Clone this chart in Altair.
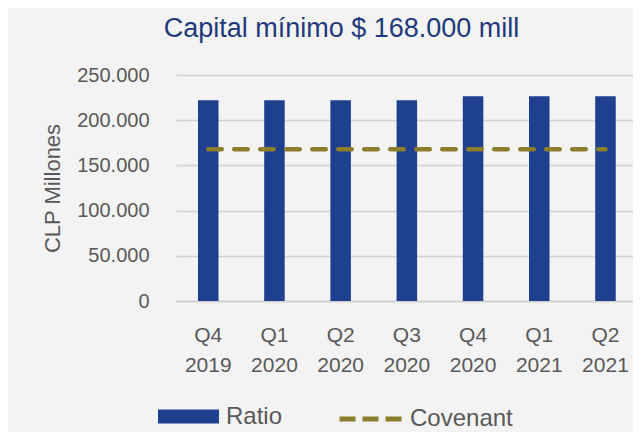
import altair as alt
import pandas as pd

categories = ["Q4 2019", "Q1 2020", "Q2 2020", "Q3 2020", "Q4 2020", "Q1 2021", "Q2 2021"]
ratio = [222000, 222000, 222000, 222000, 226500, 226500, 226500]
covenant = [168000] * 7

FONT = "Liberation Sans"
BLUE = "#1f3f8f"
OLIVE = "#8c7e2b"
GRAY_TXT = "#595959"

bars_df = pd.DataFrame({"cat": categories, "value": ratio, "s": ["Ratio"] * 7})
line_df = pd.DataFrame({"cat": categories, "value": covenant, "s": ["Covenant"] * 7})

x_enc = alt.X(
    "cat:N",
    sort=categories,
    scale=alt.Scale(paddingInner=0.69, paddingOuter=0.2965, align=0.56),
    axis=alt.Axis(
        title=None,
        labelExpr="split(datum.label, ' ')",
        labelFontSize=21,
        labelLineHeight=30,
        labelColor=GRAY_TXT,
        labelFont=FONT,
        labelPadding=23,
        labelAngle=0,
        ticks=False,
        domain=True,
        domainColor="#cfcfcf",
        domainWidth=1.5,
        grid=False,
    ),
)

y_enc = alt.Y(
    "value:Q",
    scale=alt.Scale(domain=[0, 250000], nice=False),
    axis=alt.Axis(
        title="CLP Millones",
        titleFont=FONT,
        titleFontSize=22,
        titleFontWeight="normal",
        titleColor=GRAY_TXT,
        titlePadding=12,
        values=[0, 50000, 100000, 150000, 200000, 250000],
        labelExpr="replace(format(datum.value, ','), ',', '.')",
        labelFontSize=20,
        labelColor=GRAY_TXT,
        labelFont=FONT,
        labelPadding=27,
        ticks=False,
        domain=False,
        grid=True,
        gridColor="#d0d0d0",
        gridWidth=1.5,
    ),
)

bars = alt.Chart(bars_df).mark_bar(color=BLUE).encode(
    x=x_enc,
    y=y_enc,
    fill=alt.Fill(
        "s:N",
        scale=alt.Scale(domain=["Ratio"], range=[BLUE]),
        legend=alt.Legend(
            title=None,
            orient="none",
            legendX=-18,
            legendY=311,
            padding=0,
            symbolType="M-1,-0.23H1V0.23H-1Z",
            symbolSize=3721,
            symbolStrokeWidth=0,
            labelOffset=7,
            labelFontSize=24,
            labelFont=FONT,
            labelColor=GRAY_TXT,
        ),
    ),
)

line = alt.Chart(line_df).mark_line(
    strokeWidth=4.5, strokeDash=[13.5, 12.5], strokeCap="round"
).encode(
    x=alt.X("cat:N", sort=categories),
    y=alt.Y("value:Q"),
    stroke=alt.Stroke(
        "s:N",
        scale=alt.Scale(domain=["Covenant"], range=[OLIVE]),
        legend=alt.Legend(
            title=None,
            orient="none",
            legendX=161,
            legendY=309,
            padding=0,
            symbolType="stroke",
            symbolSize=4225,
            symbolStrokeWidth=5,
            symbolDash=[16, 7],
            labelOffset=3,
            labelFontSize=24,
            labelFont=FONT,
            labelColor=GRAY_TXT,
        ),
    ),
)

chart = (
    alt.layer(bars, line)
    .resolve_scale(fill="independent", stroke="independent")
    .properties(
        width=457,
        height=226,
        autosize=alt.AutoSizeParams(type="none"),
        padding={"left": 168, "top": 67, "right": 0, "bottom": 131},
        background="#f3f3f3",
        title=alt.TitleParams(
            "Capital mínimo $ 168.000 mill",
            font=FONT,
            fontSize=27,
            fontWeight="normal",
            color="#1f3a7a",
            anchor="middle",
            frame="group",
            dx=-63,
            offset=22,
        ),
    )
    .configure_view(stroke=None)
)

chart.save("out.html", embed_options={"renderer": "svg", "actions": False})
